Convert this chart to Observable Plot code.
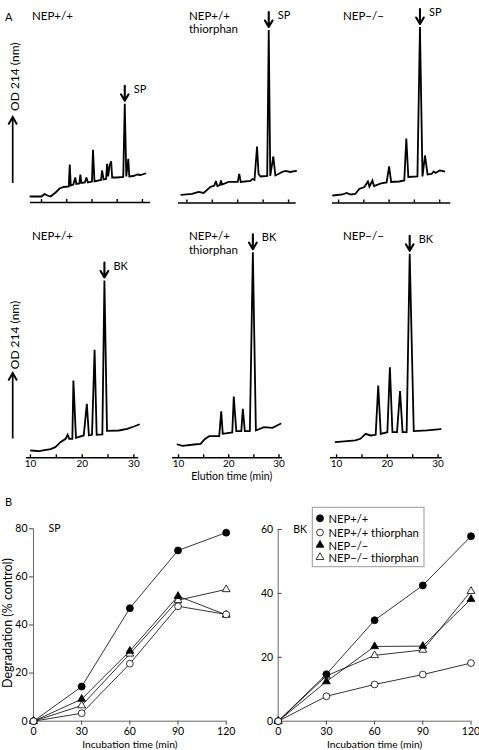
<!DOCTYPE html>
<html><head><meta charset="utf-8">
<script src="https://cdn.jsdelivr.net/npm/d3@7"></script>
<script src="https://cdn.jsdelivr.net/npm/@observablehq/plot@0.6"></script>
<style>
html,body{margin:0;padding:0;background:#fff;}
#fig{position:relative;width:479px;height:750px;overflow:hidden;background:#fff;}
#fig svg{position:absolute;overflow:visible;}
</style></head><body><div id="fig"></div>
<script>
// ---------------- Panel A: HPLC traces (elution time in min, OD 214 in arbitrary units)
const elutionTicks = [10, 15, 20, 25, 30];
const elutionTickLabels = [10, 20, 30];
const conditions = ["NEP+/+", "NEP+/+ thiorphan", "NEP−/−"];

const spWildTime = [7.8,10.0,10.6,11.2,11.8,12.8,13.6,14.4,15.4,15.6,15.8,16.3,16.7,16.9,17.5,17.7,17.9,18.6,18.9,19.2,20.0,20.2,20.5,21.8,22.0,22.3,22.8,23.0,23.2,23.5,23.8,24.0,25.0,26.2,26.5,26.8,27.2,27.4,28.2,29.0,29.6,30.6];
const spWildOD   = [6,6,8.5,7,6,10,14,15.5,16,38,17,18,25,18.5,19,28,19.5,20,25,20,21,52.7,21,22.5,32,23,23.5,38.7,26,37,41.3,25,25,25.5,98.7,26,43.7,26,26.5,28,27.5,29];

const spThiorphanTime = [8.9,11.0,12.3,13.3,14.6,15.4,15.7,16.0,16.5,16.7,16.9,18.2,20.0,20.3,20.6,22.5,22.9,23.3,23.8,24.1,24.5,25.8,26.1,26.4,27.0,27.4,28.0,28.7,29.4,30.3,31.5];
const spThiorphanOD   = [8,9,11,10,16,17.5,22,17,18,22.5,18.5,21,21,29,21,22,24,23,56.5,29,26.5,27,173,27,46.5,27.5,29,31,32,31,32];

const spKnockoutTime = [8.9,10.8,11.6,12.4,13.3,14.1,15.1,15.8,16.1,16.7,17.0,18.4,19.5,20.0,20.4,22.0,23.0,23.4,23.8,25.6,26.1,26.6,27.1,27.6,28.4,28.8,29.2,30.0,30.9];
const spKnockoutOD   = [7.5,8.5,10,8.5,9,14,16,21.5,16.5,22.5,17,19.5,20.5,36.5,21,21.5,22.5,64.5,26,26.5,176,26.5,47.5,28.5,29,31.5,30,32.5,31.5];

const bkWildTime = [10.1,11.6,13.9,14.8,15.8,16.8,17.2,17.5,18.1,18.3,18.8,20.3,20.9,21.3,21.9,22.4,22.8,23.9,24.3,24.8,27.1,28.7,30.0,31.0];
const bkWildOD   = [7.3,6.6,8.6,10.6,15.6,19,23,19,19,77.3,20,22.3,54,22.3,23,108,23,23.3,177.3,27,27.3,29,31.3,33.3];

const bkThiorphanTime = [9.8,10.8,13.1,14.4,15.2,16.1,18.1,18.5,18.8,20.7,21.0,21.5,22.5,22.8,23.2,24.2,24.8,25.4,27.0,28.7,30.3];
const bkThiorphanOD   = [13.3,12,13.3,14,18.6,21.6,21.6,46.6,24,25.3,61.3,26.6,26.6,49,26.6,26.6,205.6,27.3,30.6,30,34];

const bkKnockoutTime = [9.8,13.7,14.7,15.7,16.7,17.7,18.2,18.7,20.0,20.5,21.0,21.9,22.5,23.0,23.8,24.4,25.2,27.8,30.5];
const bkKnockoutOD   = [15.6,17.3,19,24,22.3,23,72.3,24,25.6,90.6,25.6,25.6,66.6,25.6,25.6,204,26.6,27.3,28.6];

// ---------------- Panel B: degradation (% control) vs incubation time (min)
const incubationTime = [0, 30, 60, 90, 120];
const seriesNames = ["NEP+/+", "NEP+/+ thiorphan", "NEP−/−", "NEP−/− thiorphan"];
const spWild          = [0, 14.4, 47.0, 71.0, 78.4];
const spWildThiorphan = [0, 3.3, 23.9, 47.8, 44.4];
const spKnockout          = [0, 9.2, 29.2, 52.0, 44.2];
const spKnockoutThiorphan = [0, 6.5, 28.0, 50.3, 54.8];
const bkWild          = [0, 14.7, 31.6, 42.5, 57.9];
const bkWildThiorphan = [0, 7.8, 11.5, 14.6, 18.2];
const bkKnockout          = [0, 12.4, 23.4, 23.5, 38.2];
const bkKnockoutThiorphan = [0, 14.2, 20.6, 22.3, 40.7];
const spTicks = [0, 20, 40, 60, 80];
const bkTicks = [0, 20, 40, 60];

// ---------------- drawing
const FONT = "Lato, 'Liberation Sans', sans-serif";
const fig = document.getElementById("fig");
function place(svg, left, top) {
  svg.style.left = left + "px";
  svg.style.top = top + "px";
  fig.appendChild(svg);
}
const baseStyle = {fontFamily: FONT, fontSize: "10px", background: "transparent", overflow: "visible", color: "#000"};

const peakArrow = {
  draw(ctx, l) {
    ctx.moveTo(0, 0); ctx.lineTo(0, -l);
    ctx.moveTo(-3.8, -l + 6.5); ctx.lineTo(0, -l); ctx.lineTo(3.8, -l + 6.5);
  }
};

function chromatogram(time, od, peakLabel, g) {
  const data = time.map((t, i) => ({t, od: od[i]}));
  const peak = d3.greatest(data, d => d.od);
  return Plot.plot({
    width: g.width, height: g.height,
    marginLeft: 0, marginRight: 0, marginTop: 0, marginBottom: g.height - g.axisY,
    x: {domain: g.domain, label: null},
    y: {domain: [0, g.axisY], axis: null},
    style: baseStyle,
    marks: [
      Plot.ruleY([0], {strokeWidth: 1.5}),
      Plot.axisX({ticks: elutionTicks, tickSize: 3, dy: -3, tickFormat: () => "", strokeWidth: 1.4, label: null}),
      g.labels ? Plot.axisX({ticks: elutionTickLabels, tickSize: 0, tickPadding: 2, fontSize: 10, label: null}) : null,
      Plot.line(data, {x: "t", y: "od", strokeWidth: 1.8, strokeLinejoin: "miter", strokeMiterlimit: 3}),
      Plot.vector([peak], {x: "t", y: "od", length: 15, rotate: 180, anchor: "end", shape: peakArrow, dy: -3, strokeWidth: 2.1}),
      Plot.text([peak], {x: "t", y: "od", text: () => peakLabel, dx: 9, dy: -14.5, textAnchor: "start", fontSize: 11})
    ]
  });
}

// row 1 (SP)
place(chromatogram(spWildTime, spWildOD, "SP", {width: 120, height: 212, axisY: 202, domain: [7.82, 31.6]}), 30, 0);
place(chromatogram(spThiorphanTime, spThiorphanOD, "SP", {width: 117.7, height: 212, axisY: 202.5, domain: [8.35, 31.5]}), 178.3, 0);
place(chromatogram(spKnockoutTime, spKnockoutOD, "SP", {width: 118.3, height: 212, axisY: 202.5, domain: [8.8, 32.2]}), 331.7, 0);
// row 2 (BK)
place(chromatogram(bkWildTime, bkWildOD, "BK", {width: 112.3, height: 262, axisY: 237.3, domain: [9.23, 30.95], labels: true}), 26, 220);
place(chromatogram(bkThiorphanTime, bkThiorphanOD, "BK", {width: 110, height: 262, axisY: 237.3, domain: [8.8, 30.7], labels: true}), 171.7, 220);
place(chromatogram(bkKnockoutTime, bkKnockoutOD, "BK", {width: 111.7, height: 262, axisY: 237.3, domain: [8.8, 30.8], labels: true}), 330, 220);

// panel B
function tableOf(values) {
  return values.flatMap((v, s) => incubationTime.map((t, i) => ({time: t, value: v[i], series: seriesNames[s]})));
}
const styles = {
  "NEP+/+": {symbol: "circle", fill: "black", r: 3.5},
  "NEP+/+ thiorphan": {symbol: "circle", fill: "white", r: 3.4},
  "NEP−/−": {symbol: "triangle", fill: "black", r: 2.9},
  "NEP−/− thiorphan": {symbol: "triangle", fill: "white", r: 2.9}
};
const drawOrder = ["NEP−/− thiorphan", "NEP−/−", "NEP+/+", "NEP+/+ thiorphan"];

function degradation(values, name, yTicks, g) {
  const rows = tableOf(values);
  const dots = drawOrder.map(s => Plot.dot(rows.filter(d => d.series === s), {
    x: "time", y: "value", symbol: () => styles[s].symbol, r: styles[s].r,
    fill: styles[s].fill, stroke: "black", strokeWidth: 0.8
  }));
  return Plot.plot({
    width: g.width, height: g.height,
    marginLeft: g.marginLeft, marginRight: g.marginRight, marginTop: g.marginTop, marginBottom: g.marginBottom,
    x: {domain: [0, 120], label: null},
    y: {domain: [0, yTicks[yTicks.length - 1]], label: null},
    symbol: {type: "identity"},
    style: baseStyle,
    marks: [
      Plot.ruleX([0], {stroke: "#444", strokeWidth: 0.8}),
      Plot.ruleY([0], {stroke: "#444", strokeWidth: 0.8}),
      g.inwardTicks
        ? [Plot.axisY({ticks: yTicks, tickSize: 4, dx: 4, tickFormat: () => "", stroke: "#444", label: null}),
           Plot.axisY({ticks: yTicks, tickSize: 0, tickPadding: 5, fontSize: 10.5, label: null})]
        : Plot.axisY({ticks: yTicks, tickSize: 4, tickPadding: 2, fontSize: 10.5, stroke: "#444", label: null}),
      g.yLabel ? Plot.text([g.yLabel], {frameAnchor: "left", rotate: -90, dx: -25.5, dy: -2, textAnchor: "middle", lineAnchor: "middle", fontSize: 12.5}) : null,
      Plot.axisX({ticks: incubationTime, tickSize: 4, tickPadding: 2, fontSize: 10.5, stroke: "#444", label: null}),
      Plot.text(["Incubation time (min)"], {frameAnchor: "bottom", dy: 23.5, lineAnchor: "middle", fontSize: 10.3}),
      Plot.line(rows, {x: "time", y: "value", z: "series", stroke: "black", strokeWidth: 0.8}),
      ...dots,
      Plot.text([name], {frameAnchor: "top-left", dx: 15, dy: -4, fontSize: 10.5, textAnchor: "start"})
    ]
  });
}

place(degradation([spWild, spWildThiorphan, spKnockout, spKnockoutThiorphan], "SP", spTicks,
  {width: 240, height: 270, marginLeft: 33, marginRight: 14.3, marginTop: 48.3, marginBottom: 29.3, yLabel: "Degradation (% control)"}), 0, 480);
place(degradation([bkWild, bkWildThiorphan, bkKnockout, bkKnockoutThiorphan], "BK", bkTicks,
  {width: 239, height: 270, marginLeft: 37.7, marginRight: 8.5, marginTop: 49, marginBottom: 29.3, inwardTicks: true}), 240, 480);

// ---------------- annotations (labels, axis arrows, legend)
const ov = d3.create("svg").attr("width", 479).attr("height", 750)
  .style("left", "0px").style("top", "0px").style("pointer-events", "none")
  .attr("font-family", FONT).attr("fill", "black");
function txt(s, x, y, size, extra = {}) {
  const t = ov.append("text").attr("x", x).attr("y", y).attr("font-size", size).text(s);
  for (const k in extra) t.attr(k, extra[k]);
  return t;
}
txt("A", 5, 20.5, 11);
txt("B", 5, 506, 11);
const headerX = [32, 189, 343];
[19.5, 240.3].forEach(y1 => {
  txt("NEP+/+", headerX[0], y1, 11.5);
  const two = ov.append("text").attr("x", headerX[1]).attr("y", y1).attr("font-size", 11.5);
  two.append("tspan").attr("x", headerX[1]).text("NEP+/+");
  two.append("tspan").attr("x", headerX[1]).attr("dy", 13.6).text("thiorphan");
  txt("NEP−/−", headerX[2], y1, 11.5);
});
function odLabel(cx, cy, y0, y1) {
  txt("OD 214 (nm)", 0, 0, 12, {"text-anchor": "middle", "dominant-baseline": "central",
    transform: `translate(${cx},${cy}) rotate(-90)`});
  ov.append("line").attr("x1", 12.7).attr("x2", 12.7).attr("y1", y0).attr("y2", y1 + 1).attr("stroke", "black").attr("stroke-width", 1.7);
  ov.append("path").attr("d", `M8.4,${y1 + 7.5}L12.7,${y1}L17,${y1 + 7.5}`).attr("fill", "none").attr("stroke", "black").attr("stroke-width", 1.9);
}
odLabel(14.6, 76.7, 183, 117);
odLabel(14.2, 335, 438.5, 373);
txt("Elution time (min)", 231.7, 480, 10.5, {"text-anchor": "middle"});

// legend
const lg = ov.append("g");
lg.append("rect").attr("x", 312.3).attr("y", 507.3).attr("width", 111.7).attr("height", 59.4)
  .attr("fill", "white").attr("stroke", "#999").attr("stroke-width", 1);
const legendY = [518.3, 532.5, 545, 557.3];
seriesNames.forEach((s, i) => {
  const st = styles[s];
  const sym = d3.symbol(st.symbol === "circle" ? d3.symbolCircle : d3.symbolTriangle, Math.PI * st.r * st.r)();
  lg.append("path").attr("d", sym).attr("transform", `translate(320,${legendY[i]})`)
    .attr("fill", st.fill).attr("stroke", "black").attr("stroke-width", 0.8);
  txt(s, 328.5, legendY[i], 11.2, {"dominant-baseline": "central"});
});
fig.appendChild(ov.node());
</script></body></html>
